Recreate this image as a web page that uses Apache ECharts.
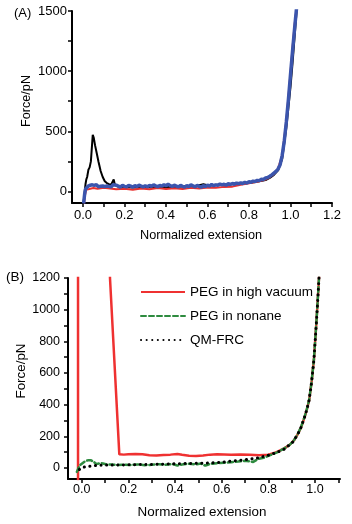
<!DOCTYPE html>
<html>
<head>
<meta charset="utf-8">
<script src="https://cdn.jsdelivr.net/npm/echarts@6/dist/echarts.min.js"></script>
<style>
  html, body { margin: 0; padding: 0; background: #fff; }
  #chart { width: 352px; height: 524px; }
</style>
</head>
<body>
<div id="chart"></div>
<script>
// ---- panel A: three experimental traces ----
const aTicksX = [0, 0.1, 0.2, 0.3, 0.4, 0.5, 0.6, 0.7, 0.8, 0.9, 1.0, 1.1, 1.2];
const aLabelsX = [0, 0.2, 0.4, 0.6, 0.8, 1.0, 1.2];
const aTicksY = [0, 250, 500, 750, 1000, 1250, 1500];
const aLabelsY = [0, 500, 1000, 1500];

const aBlack = [
  [0.002, -100], [0.008, -10], [0.012, 60], [0.016, 100], [0.02, 120], [0.026, 180],
  [0.032, 200], [0.038, 250], [0.042, 265], [0.047, 470], [0.052, 445], [0.058, 385],
  [0.066, 320], [0.075, 245], [0.085, 170], [0.095, 120], [0.105, 85], [0.115, 70],
  [0.125, 60], [0.135, 55], [0.142, 70], [0.148, 100], [0.153, 60], [0.16, 45],
  [0.17, 40], [0.2, 35], [0.25, 32], [0.3, 38], [0.35, 35], [0.4, 40], [0.45, 38],
  [0.5, 45], [0.55, 48], [0.58, 60], [0.6, 52], [0.65, 55], [0.7, 58], [0.75, 65],
  [0.8, 70], [0.85, 85], [0.88, 95], [0.9, 112], [0.92, 138], [0.94, 175], [0.96, 270],
  [0.98, 530], [1.0, 870], [1.01, 1070], [1.02, 1290], [1.03, 1510]
];

const aRed = [
  [0.005, -100], [0.01, -30], [0.015, 15], [0.02, 25], [0.03, 20], [0.05, 28], [0.07, 22],
  [0.1, 30], [0.13, 25], [0.16, 18], [0.2, 22], [0.24, 15], [0.28, 25], [0.32, 18],
  [0.36, 28], [0.4, 20], [0.44, 26], [0.48, 20], [0.52, 30], [0.56, 25], [0.6, 32],
  [0.64, 30], [0.68, 38], [0.72, 40], [0.76, 55], [0.8, 68], [0.84, 80], [0.88, 100],
  [0.9, 118], [0.92, 145], [0.94, 190], [0.96, 300], [0.98, 590], [1.0, 985],
  [1.01, 1200], [1.02, 1390], [1.035, 1600]
];

const aBlue = [
  [0.003, -100], [0.008, -20], [0.012, 20], [0.016, 35], [0.02, 28], [0.025, 45],
  [0.03, 38], [0.035, 52], [0.04, 44], [0.045, 55], [0.05, 40], [0.055, 50], [0.06, 42],
  [0.065, 56], [0.07, 45], [0.075, 38], [0.08, 50], [0.085, 44], [0.09, 58], [0.095, 46],
  [0.1, 52], [0.105, 40], [0.11, 55], [0.115, 45], [0.12, 60], [0.125, 42], [0.13, 50],
  [0.135, 38], [0.14, 48], [0.145, 55], [0.15, 40], [0.16, 52], [0.17, 44], [0.18, 36],
  [0.19, 50], [0.2, 42], [0.21, 38], [0.22, 50], [0.23, 44], [0.24, 36], [0.25, 48],
  [0.26, 40], [0.27, 52], [0.28, 45], [0.29, 38], [0.3, 47], [0.31, 40], [0.32, 50],
  [0.33, 43], [0.34, 55], [0.35, 46], [0.36, 40], [0.37, 50], [0.38, 44], [0.39, 56],
  [0.4, 47], [0.41, 60], [0.42, 48], [0.43, 42], [0.44, 52], [0.45, 45], [0.46, 38],
  [0.47, 50], [0.48, 42], [0.49, 36], [0.5, 48], [0.51, 40], [0.52, 55], [0.53, 46],
  [0.54, 38], [0.55, 50], [0.56, 42], [0.57, 35], [0.58, 48], [0.59, 40], [0.6, 52],
  [0.61, 45], [0.62, 58], [0.63, 48], [0.64, 55], [0.65, 50], [0.66, 62], [0.67, 54],
  [0.68, 60], [0.69, 52], [0.7, 64], [0.71, 58], [0.72, 66], [0.73, 60], [0.74, 70],
  [0.75, 64], [0.76, 72], [0.77, 66], [0.78, 76], [0.79, 70], [0.8, 80], [0.81, 76],
  [0.82, 86], [0.83, 82], [0.84, 92], [0.85, 90], [0.86, 102], [0.87, 100], [0.88, 112],
  [0.89, 116], [0.9, 126], [0.91, 138], [0.92, 152], [0.93, 166], [0.94, 186],
  [0.95, 222], [0.96, 300], [0.97, 420], [0.98, 580], [0.99, 765], [1.0, 970],
  [1.01, 1170], [1.02, 1360], [1.03, 1540]
];

// ---- panel B: vacuum / nonane / QM-FRC ----
const bTicksX = [0, 0.1, 0.2, 0.3, 0.4, 0.5, 0.6, 0.7, 0.8, 0.9, 1.0, 1.1];
const bLabelsX = [0, 0.2, 0.4, 0.6, 0.8, 1.0];
const bTicksY = [0, 100, 200, 300, 400, 500, 600, 700, 800, 900, 1000, 1100, 1200];
const bLabelsY = [0, 200, 400, 600, 800, 1000, 1200];
const bNames = ['PEG in high vacuum', 'PEG in nonane', 'QM-FRC'];

const bVacuum = [
  [-0.016, -80], [-0.016, 3000], [0.112, 3000], [0.121, 1200], [0.161, 86], [0.18, 84],
  [0.2, 86], [0.23, 88], [0.26, 86], [0.29, 80], [0.32, 79], [0.35, 82], [0.38, 84],
  [0.41, 88], [0.43, 83], [0.46, 77], [0.49, 76], [0.52, 79], [0.55, 84], [0.58, 86],
  [0.61, 85], [0.64, 84], [0.68, 85], [0.72, 83], [0.76, 80], [0.8, 84], [0.835, 100],
  [0.87, 125], [0.893, 148], [0.91, 175], [0.925, 210], [0.94, 255], [0.955, 320],
  [0.965, 370], [0.975, 430], [0.985, 540], [0.995, 680], [1.0, 790], [1.005, 900],
  [1.01, 1020], [1.017, 1200], [1.025, 1400]
];

const bNonane = [
  [-0.021, -25], [-0.014, 0], [-0.007, 18], [0.0, 28], [0.014, 42], [0.026, 48],
  [0.04, 48], [0.052, 38], [0.063, 24], [0.077, 30], [0.091, 28], [0.11, 20], [0.13, 22],
  [0.15, 18], [0.18, 20], [0.21, 18], [0.24, 22], [0.27, 17], [0.3, 20], [0.33, 23],
  [0.36, 20], [0.39, 24], [0.41, 15], [0.43, 22], [0.46, 26], [0.49, 22], [0.51, 28],
  [0.53, 14], [0.55, 26], [0.58, 30], [0.61, 33], [0.64, 36], [0.67, 40], [0.7, 45],
  [0.735, 38], [0.755, 56], [0.78, 64], [0.81, 82], [0.84, 100], [0.87, 125],
  [0.893, 148], [0.91, 175], [0.925, 212], [0.94, 258], [0.955, 322], [0.965, 372],
  [0.975, 432], [0.985, 542], [0.995, 682], [1.0, 792], [1.005, 902], [1.01, 1022],
  [1.017, 1200], [1.025, 1400]
];

const bQmfrc = [
  [-0.01, -10], [0.0, 2], [0.02, 8], [0.04, 12], [0.06, 15], [0.1, 18], [0.15, 18],
  [0.2, 20], [0.25, 21], [0.3, 22], [0.35, 24], [0.4, 26], [0.45, 28], [0.5, 29],
  [0.55, 31], [0.6, 36], [0.65, 44], [0.7, 52], [0.75, 61], [0.81, 84], [0.864, 114],
  [0.907, 166], [0.936, 240], [0.955, 320], [0.965, 370], [0.975, 430], [0.985, 540],
  [0.995, 680], [1.0, 790], [1.005, 900], [1.01, 1020], [1.017, 1200], [1.025, 1400]
];

const font = '"Liberation Sans", Arial, sans-serif';

function valueAxis(gridIndex, min, max, ticks, labels, fmt, fontSize, margin) {
  return {
    type: 'value',
    gridIndex: gridIndex,
    min: min,
    max: max,
    axisLine: { show: true, onZero: false, lineStyle: { color: '#000', width: 2 } },
    axisTick: { show: true, customValues: ticks, length: 4, lineStyle: { color: '#000', width: 1.5 } },
    axisLabel: {
      customValues: labels, formatter: fmt, margin: margin,
      color: '#000', fontSize: fontSize, fontFamily: font
    },
    splitLine: { show: false }
  };
}

function line(name, data, axis, color, width, dash) {
  return {
    name: name,
    type: 'line',
    xAxisIndex: axis,
    yAxisIndex: axis,
    data: data,
    symbol: 'none',
    clip: true,
    silent: true,
    lineStyle: { color: color, width: width, type: dash || 'solid', cap: dash ? 'round' : 'butt' },
    itemStyle: { color: color }
  };
}

const fmtX = (v) => v.toFixed(1);
const fmtY = (v) => String(v);

const chart = echarts.init(document.getElementById('chart'));

chart.setOption({
  animation: false,
  backgroundColor: '#fff',
  grid: [
    { left: 72, top: 11, width: 260, height: 192 },
    { left: 68, top: 278, width: 272, height: 201 }
  ],
  xAxis: [
    valueAxis(0, -0.053, 1.2, aTicksX, aLabelsX, fmtX, 13, 6),
    valueAxis(1, -0.059, 1.107, bTicksX, bLabelsX, fmtX, 12.5, 4)
  ],
  yAxis: [
    valueAxis(0, -96, 1500, aTicksY, aLabelsY, fmtY, 13, 5),
    valueAxis(1, -70, 1200, bTicksY, bLabelsY, fmtY, 12.5, 8)
  ],
  legend: {
    data: bNames,
    orient: 'vertical',
    left: 140,
    top: 285,
    padding: 0,
    itemWidth: 44,
    itemHeight: 10,
    itemGap: 10,
    selectedMode: false,
    itemStyle: { opacity: 0 },
    textStyle: { color: '#000', fontSize: 13.5, fontFamily: font, lineHeight: 14 }
  },
  series: [
    line('black', aBlack, 0, '#000000', 2),
    line('red', aRed, 0, '#e8312f', 2),
    line('blue', aBlue, 0, '#3b55ad', 3.5),
    line(bNames[0], bVacuum, 1, '#ef3131', 2.5),
    line(bNames[1], bNonane, 1, '#2e8b3f', 2.5, [5, 3]),
    line(bNames[2], bQmfrc, 1, '#000000', 3, [0.1, 5.5])
  ],
  graphic: [
    { type: 'text', x: 14, y: 13, style: { text: '(A)', fontSize: 13, fontFamily: font, fill: '#000', verticalAlign: 'middle' } },
    { type: 'text', x: 26, y: 101, rotation: Math.PI / 2,
      style: { text: 'Force/pN', fontSize: 12.7, fontFamily: font, fill: '#000', align: 'center', verticalAlign: 'middle' } },
    { type: 'text', x: 201, y: 235,
      style: { text: 'Normalized extension', fontSize: 12.7, fontFamily: font, fill: '#000', align: 'center', verticalAlign: 'middle' } },
    { type: 'text', x: 6, y: 277, style: { text: '(B)', fontSize: 13.5, fontFamily: font, fill: '#000', verticalAlign: 'middle' } },
    { type: 'text', x: 21, y: 371, rotation: Math.PI / 2,
      style: { text: 'Force/pN', fontSize: 13.4, fontFamily: font, fill: '#000', align: 'center', verticalAlign: 'middle' } },
    { type: 'text', x: 202, y: 512,
      style: { text: 'Normalized extension', fontSize: 13.4, fontFamily: font, fill: '#000', align: 'center', verticalAlign: 'middle' } }
  ]
});

window.addEventListener('resize', () => chart.resize());
</script>
</body>
</html>
